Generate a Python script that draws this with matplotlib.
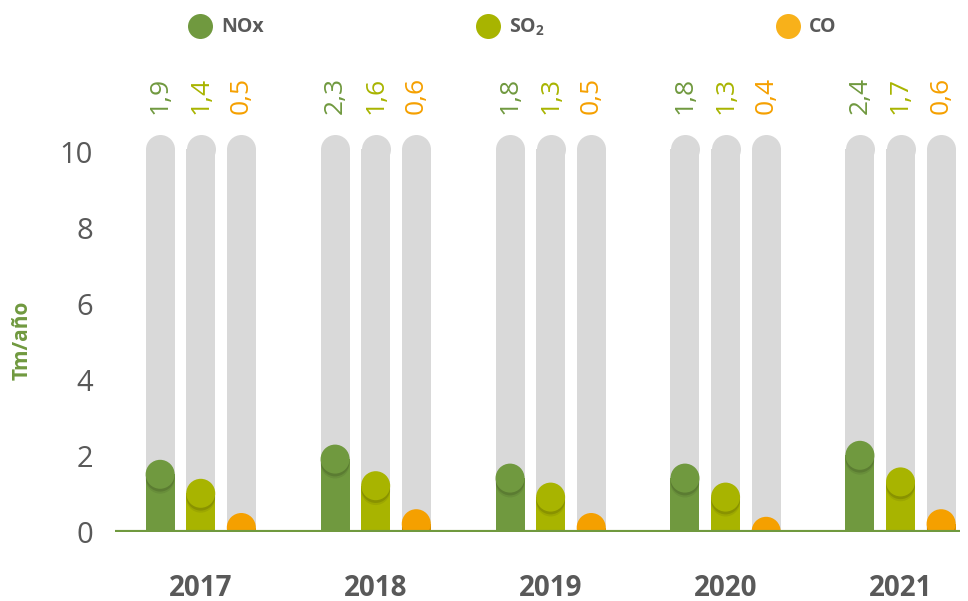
import numpy as np
import matplotlib.pyplot as plt
import matplotlib.patheffects as pe
from matplotlib.lines import Line2D

plt.rcParams['font.family'] = ['Open Sans', 'DejaVu Sans']
plt.rcParams['mathtext.fontset'] = 'custom'
plt.rcParams['mathtext.rm'] = 'Open Sans:bold'
plt.rcParams['mathtext.bf'] = 'Open Sans:bold'

years = ["2017", "2018", "2019", "2020", "2021"]
nox = [1.9, 2.3, 1.8, 1.8, 2.4]
so2 = [1.4, 1.6, 1.3, 1.3, 1.7]
co = [0.5, 0.6, 0.5, 0.4, 0.6]
series_names = ["NOx", "SO$_2$", "CO"]
bg_top = 10.45

colors = ["#70993f", "#a8b400", "#f5a000"]
legend_colors = ["#70993f", "#a8b400", "#f8b11a"]
grey = "#d9d9d9"
text_grey = "#595959"

W, H = 968, 601
fig = plt.figure(figsize=(W / 100, H / 100), dpi=100)
ax = fig.add_axes([115 / W, 69 / H, 845 / W, 475 / H])
ax.set_xlim(-0.49, 4.34)
ax.set_ylim(0, 12.5)

# pixel -> data conversions
px_y = 475 / 12.5
px_x = 845 / 4.83
radius = 14.5
r_data = radius / px_y
bw = 29 / px_x
ms = 2 * radius * 72 / 100

x = np.arange(len(years))
offsets = [-0.232, 0.0, 0.232]
shadow = [pe.SimplePatchShadow(offset=(0, -3.5), shadow_rgbFace="black", alpha=0.07),
          pe.SimplePatchShadow(offset=(0, -2), shadow_rgbFace="black", alpha=0.12),
          pe.Normal()]

for i, vals in enumerate([nox, so2, co]):
    xs = x + offsets[i]
    # grey background bars with rounded top
    ax.bar(xs, bg_top - r_data, width=bw, color=grey, zorder=1)
    ax.plot(xs, [bg_top - r_data] * len(xs), "o", ms=ms, color=grey, mec="none", zorder=1)
    # value bars with circle cap
    v = np.array(vals)
    ax.bar(xs, np.clip(v - r_data, 0, None), width=bw, color=colors[i], zorder=2)
    ax.plot(xs, v - r_data, "o", ms=ms, color=colors[i], mec="none", zorder=3,
            path_effects=shadow)
    for xi, vi in zip(xs, vals):
        ax.text(xi, 11.0, f"{vi:.1f}".replace(".", ","), rotation=90, ha="center",
                va="bottom", fontsize=19, color=colors[i], clip_on=False)

ax.axhline(0, color="#70993f", lw=3, zorder=4)

for s in ax.spines.values():
    s.set_visible(False)
ax.set_yticks([0, 2, 4, 6, 8, 10])
ax.set_yticklabels(["0", "2", "4", "6", "8", "10"])
ax.tick_params(axis="y", length=0, pad=16, labelsize=21, labelcolor=text_grey)
ax.set_xticks(x)
ax.set_xticklabels(years, fontweight="bold")
ax.tick_params(axis="x", length=0, pad=30, labelsize=20, labelcolor=text_grey)

fig.text(22 / W, 1 - 340 / H, "Tm/año", rotation=90, ha="center", va="center",
         fontsize=15, fontweight="bold", color="#70993f")

# legend
leg_x = [200, 488, 788]
for i, name in enumerate(series_names):
    fig.add_artist(Line2D([leg_x[i] / W], [1 - 26 / H], marker="o", ms=18,
                          color=legend_colors[i], mec="none", transform=fig.transFigure))
    fig.text((leg_x[i] + 21) / W, 1 - 27 / H, name, ha="left", va="center",
             fontsize=14, fontweight="bold", color=text_grey)

fig.savefig("out.png", dpi=100)
